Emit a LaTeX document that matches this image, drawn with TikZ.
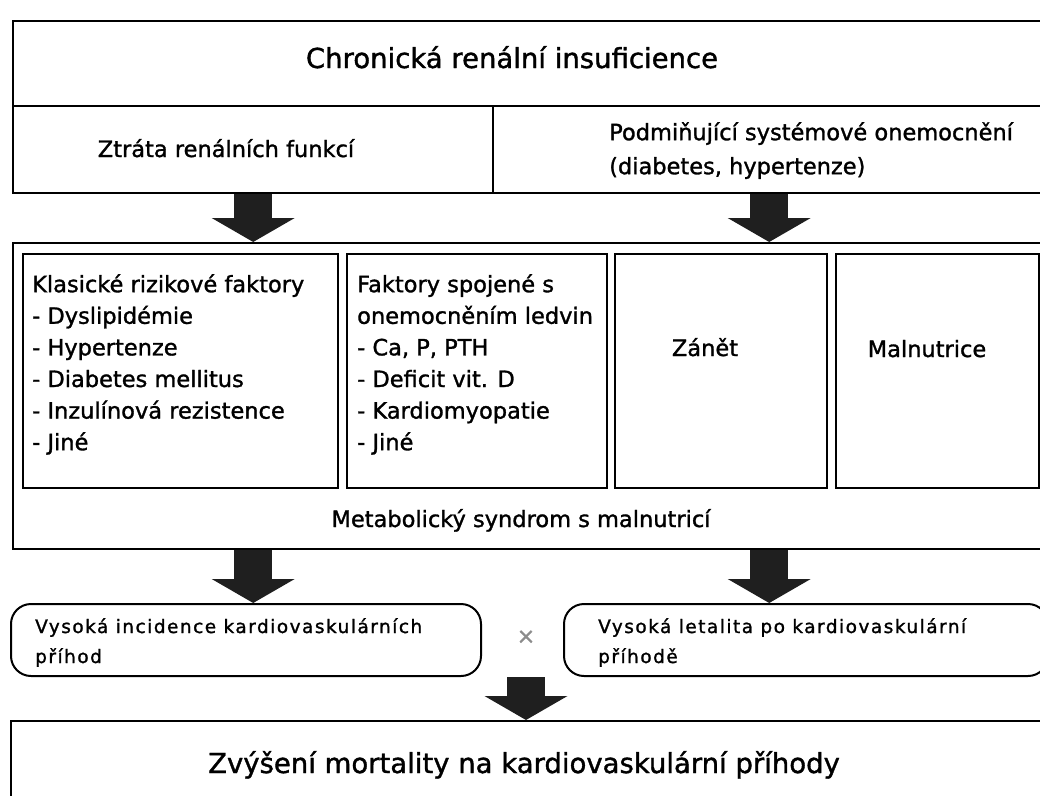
\documentclass[tikz,border=0pt]{standalone}
\usepackage{fontspec}
\setmainfont{DejaVu Sans}[FakeBold=1.3]
\newfontfamily\spacedfont[LetterSpace=8,FakeBold=1.3]{DejaVu Sans}
\usetikzlibrary{positioning,arrows.meta}
\tikzset{
    outer-box/.style = {draw=black, line width=2.4pt, rectangle, inner sep=0pt, anchor=north west},
    inner-box/.style = {draw=black, line width=2pt, rectangle, inner sep=0pt, anchor=north west, minimum height=234pt},
    event-box/.style = {draw=black, line width=2pt, rounded corners=20pt, inner sep=0pt, anchor=north west, minimum height=72pt},
    fat-arrow/.style = {draw=black!88, line width=38pt, -{Triangle[width=82pt,length=24pt]}},
    big-text/.style = {font=\fontsize{27.5}{32}\selectfont, inner sep=0pt, anchor=base},
    box-text/.style = {font=\fontsize{22.5}{26}\selectfont, inner sep=0pt, anchor=base},
    list-text/.style = {align=left, anchor=north west, inner sep=0pt, font=\fontsize{22.5}{31.6}\selectfont},
    event-text/.style = {align=left, anchor=north west, inner sep=0pt, font=\fontsize{18.5}{30}\spacedfont},
}

\begin{document}
\begin{tikzpicture}[x=1pt, y=-1pt]
\clip (0,0) rectangle (1040,795);
% top block
\node[outer-box, minimum width=1040pt, minimum height=85pt] (kri) at (12,20) {};
\node[big-text] (kri-t) at (512,68) {Chronická renální insuficience};
\node[outer-box, minimum width=480pt, minimum height=87pt] (ztrata) at (12,105) {};
\node[box-text] (ztrata-t) at (226,157) {Ztráta renálních funkcí};
\node[outer-box, minimum width=552pt, minimum height=87pt] (podm) at (492,105) {};
\node[list-text, font=\fontsize{22.5}{34}\selectfont] (podm-t) at (609,122) {Podmiňující systémové onemocnění\\(diabetes, hypertenze)};

% middle block
\node[outer-box, minimum width=1040pt, minimum height=306pt] (mid) at (12,242) {};
\node[inner-box, minimum width=315pt] (klasicke) at (22,253) {};
\node[inner-box, minimum width=260pt] (ledviny) at (346,253) {};
\node[inner-box, minimum width=212pt] (zanet) at (614,253) {};
\node[inner-box, minimum width=203pt] (maln) at (835,253) {};
\node[list-text] (klasicke-t) at (32,274) {Klasické rizikové faktory\\- Dyslipidémie\\- Hypertenze\\- Diabetes mellitus\\- Inzulínová rezistence\\- Jiné};
\node[list-text] (ledviny-t) at (357,274) {Faktory spojené s\\onemocněním ledvin\\- Ca, P, PTH\\- Deficit vit. D\\- Kardiomyopatie\\- Jiné};
\node[box-text] (zanet-t) at (705,356) {Zánět};
\node[box-text] (maln-t) at (927,357) {Malnutrice};
\node[box-text] (metab-t) at (521,527) {Metabolický syndrom s malnutricí};

% events
\node[event-box, minimum width=470pt] (incid) at (10,603) {};
\node[event-text] (incid-t) at (35,618) {Vysoká incidence kardiovaskulárních\\příhod};
\node[event-box, minimum width=484pt] (letal) at (563,603) {};
\node[event-text] (letal-t) at (598,618) {Vysoká letalita po kardiovaskulární\\příhodě};
\node[font=\fontsize{22}{24}\selectfont, text=black!45, inner sep=0pt] (krat) at (526,637) {×};

% result
\node[outer-box, minimum width=1040pt, minimum height=100pt] (mort) at (10,720) {};
\node[big-text] (mort-t) at (524,773) {Zvýšení mortality na kardiovaskulární příhody};

% arrows
\draw[fat-arrow] (ztrata.south) -- (ztrata.south |- mid.north);
\draw[fat-arrow] (podm.south) -- (podm.south |- mid.north);
\draw[fat-arrow] (mid.south -| ztrata.south) -- (ztrata.south |- incid.north);
\draw[fat-arrow] (mid.south -| podm.south) -- (podm.south |- letal.north);
\draw[fat-arrow] (krat.south |- incid.south) -- (krat.south |- mort.north);
\end{tikzpicture}
\end{document}
